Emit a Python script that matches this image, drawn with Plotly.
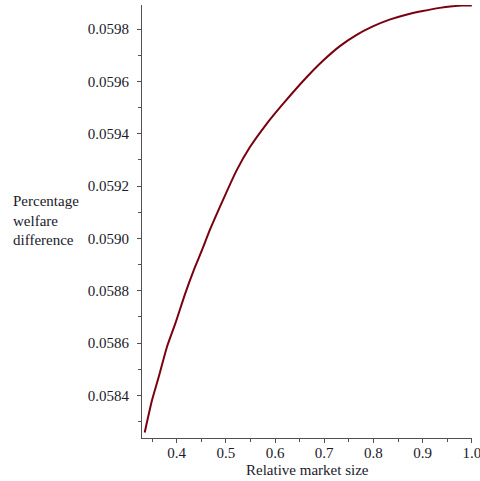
import plotly.graph_objects as go

market_size = [0.3351, 0.3499, 0.3635, 0.3803, 0.3972, 0.4174, 0.4345, 0.4513, 0.4682,
               0.4950, 0.5217, 0.5487, 0.5826, 0.6162, 0.6637, 0.6974, 0.7312, 0.7651,
               0.7988, 0.8327, 0.8665, 0.9002, 0.935, 0.961, 0.98, 1.0]
welfare_diff = [0.058258, 0.058381, 0.058470, 0.058585, 0.058674, 0.058789, 0.058877,
                0.058954, 0.059035, 0.059150, 0.059259, 0.059348, 0.059437, 0.059514,
                0.059615, 0.059679, 0.059734, 0.059777, 0.059810, 0.059836, 0.059855,
                0.059869, 0.059881, 0.059887, 0.059890, 0.059890]

y_ticks = [0.0584, 0.0586, 0.0588, 0.0590, 0.0592, 0.0594, 0.0596, 0.0598]
x_ticks = [0.4, 0.5, 0.6, 0.7, 0.8, 0.9, 1.0]

font_family = "Liberation Serif, Times New Roman, serif"
text_col = "#1a1a2a"
axis_col = "#505050"

fig = go.Figure()
fig.add_trace(go.Scatter(x=market_size, y=welfare_diff, mode="lines",
                         line=dict(color="#7a0010", width=2, shape="spline", smoothing=0.6),
                         hoverinfo="skip"))

fig.update_layout(
    width=480, height=481,
    margin=dict(l=142, r=8, t=5, b=43, autoexpand=False),
    paper_bgcolor="white", plot_bgcolor="white",
    showlegend=False,
    font=dict(family=font_family, size=15, color=text_col),
    xaxis=dict(range=[0.3296, 1.0004], tickvals=x_ticks,
               ticktext=[f"{v:.1f}" for v in x_ticks], automargin=False,
               ticklabeloverflow="allow", ticklabelstandoff=-3,
               showgrid=False, zeroline=False, showline=True, linecolor=axis_col,
               linewidth=1, ticks="outside", ticklen=4, tickcolor=axis_col,
               minor=dict(dtick=0.05, tick0=0.35, ticks="outside", ticklen=3, tickcolor=axis_col)),
    yaxis=dict(range=[0.058237, 0.059892], tickvals=y_ticks,
               ticktext=[f"{v:.4f}" for v in y_ticks], automargin=False,
               ticklabelstandoff=5,
               showgrid=False, zeroline=False, showline=True, linecolor=axis_col,
               linewidth=1, ticks="outside", ticklen=4, tickcolor=axis_col,
               minor=dict(dtick=0.0001, tick0=0.0583, ticks="outside", ticklen=3, tickcolor=axis_col)),
)

fig.add_annotation(xref="paper", yref="y", x=(10.5 - 142) / 330, y=0.05907,
                   xanchor="left", yanchor="middle", align="left", showarrow=False,
                   text="Percentage<br>welfare<br>difference",
                   font=dict(family=font_family, size=15, color=text_col))
fig.add_annotation(xref="paper", yref="paper", x=0.5, y=-32 / 433,
                   xanchor="center", yanchor="middle", showarrow=False,
                   text="Relative market size",
                   font=dict(family=font_family, size=15, color=text_col))

fig.write_html("out.html", config={"displayModeBar": False},
               post_script="document.body.style.margin='0';document.body.style.overflow='hidden';")
